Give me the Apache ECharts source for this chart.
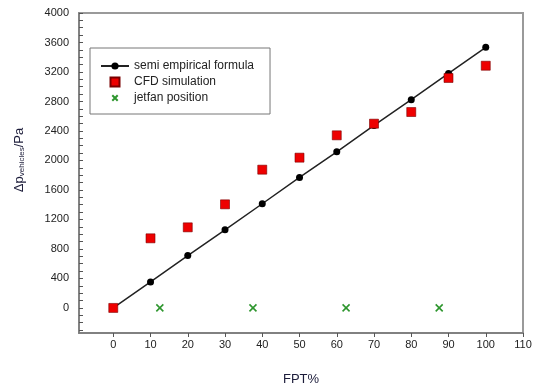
<!DOCTYPE html>
<html>
<head>
<meta charset="utf-8">
<script src="https://cdn.jsdelivr.net/npm/echarts@6/dist/echarts.min.js"></script>
<style>
html,body{margin:0;padding:0;background:#fff;}
#chart{width:541px;height:389px;}
</style>
</head>
<body>
<div id="chart"></div>
<script>
// Data
var fptX = [0, 10, 20, 30, 40, 50, 60, 70, 80, 90, 100];
var semiEmpirical = [0, 353, 710, 1060, 1413, 1770, 2118, 2475, 2824, 3180, 3535];
var cfdSimulation = [0, 944, 1093, 1405, 1875, 2038, 2341, 2499, 2657, 3119, 3285];
var jetfanX = [12.5, 37.5, 62.5, 87.5];
var jetfanY = [0, 0, 0, 0];
var xTickLabels = [0, 10, 20, 30, 40, 50, 60, 70, 80, 90, 100, 110];
var yTickLabels = [0, 400, 800, 1200, 1600, 2000, 2400, 2800, 3200, 3600, 4000];
var yMinorTicks = [];
for (var v = -300; v <= 4000; v += 100) yMinorTicks.push(v);

function pairs(xs, ys) { return xs.map(function (x, i) { return [x, ys[i]]; }); }

var squarePath = 'path://M0,0L10,0L10,10L0,10Z';
var crossPath = 'path://M0,0L10,10M10,0L0,10';
var crossLegendPath = 'path://M0,0L0,0M10,10L10,10M2,2L8,8M8,2L2,8';

var chart = echarts.init(document.getElementById('chart'), null, {renderer: 'canvas'});
var font = 'Liberation Sans, Arial, sans-serif';
chart.setOption({
  animation: false,
  backgroundColor: '#fff',
  grid: {left: 79, top: 13, right: 18, bottom: 56, outerBoundsMode: 'none', containLabel: false,
    show: true, borderColor: '#9a9a9a', borderWidth: 2, backgroundColor: 'transparent'},
  xAxis: {
    type: 'value', min: -9.2, max: 110,
    axisLine: {show: true, onZero: false, lineStyle: {color: '#7a7a7a', width: 1.5}},
    axisTick: {show: true, inside: false, length: 4, customValues: xTickLabels, lineStyle: {color: '#555'}},
    axisLabel: {customValues: xTickLabels, color: '#222', fontFamily: font, fontSize: 11, margin: 6,
      formatter: function (v) { return String(v); }},
    splitLine: {show: false},
    name: 'FPT%', nameLocation: 'middle', nameGap: 40,
    nameTextStyle: {color: '#1c1c3a', fontFamily: font, fontSize: 13}
  },
  yAxis: {
    type: 'value', min: -340, max: 4000,
    axisLine: {show: true, onZero: false, lineStyle: {color: '#7a7a7a', width: 1.5}},
    axisTick: {show: true, inside: true, length: 4, customValues: yMinorTicks, lineStyle: {color: '#555'}},
    axisLabel: {customValues: yTickLabels, color: '#222', fontFamily: font, fontSize: 11, margin: 10,
      formatter: function (v) { return String(v); }},
    splitLine: {show: false}
  },
  legend: {
    orient: 'vertical', left: 90, top: 48,
    padding: [12, 16, 10, 10],
    itemWidth: 28, itemHeight: 9, itemGap: 4,
    borderColor: '#777', borderWidth: 1, backgroundColor: '#fff',
    textStyle: {color: '#222', fontFamily: font, fontSize: 12, lineHeight: 11},
    data: [
      {name: 'semi empirical formula'},
      {name: 'CFD simulation', icon: squarePath},
      {name: 'jetfan position', icon: crossLegendPath}
    ]
  },
  graphic: [{
    type: 'text', x: 19, y: 160, rotation: Math.PI / 2,
    style: {
      text: '{a|Δp}{s|vehicles}{a|/Pa}',
      align: 'center', verticalAlign: 'middle',
      rich: {
        a: {fontFamily: font, fontSize: 13, fill: '#1c1c3a'},
        s: {fontFamily: font, fontSize: 8, fill: '#1c1c3a', verticalAlign: 'bottom', padding: [6, 0, 0, 0]}
      }
    }
  }],
  series: [
    {
      name: 'semi empirical formula', type: 'line', data: pairs(fptX, semiEmpirical),
      symbol: 'circle', symbolSize: 7, z: 2,
      lineStyle: {color: '#222', width: 1.5},
      itemStyle: {color: '#000'}
    },
    {
      name: 'CFD simulation', type: 'scatter', data: pairs(fptX, cfdSimulation),
      symbol: squarePath, symbolKeepAspect: true, symbolSize: 9, z: 3,
      itemStyle: {color: '#ee0000', opacity: 1, borderColor: '#7a0000', borderWidth: 0.6}
    },
    {
      name: 'jetfan position', type: 'scatter', data: pairs(jetfanX, jetfanY),
      symbol: crossPath, symbolKeepAspect: true, symbolSize: 7, z: 3,
      itemStyle: {color: 'rgba(0,0,0,0)', opacity: 1, borderColor: '#2e962e', borderWidth: 1.6}
    }
  ]
});
</script>
</body>
</html>
